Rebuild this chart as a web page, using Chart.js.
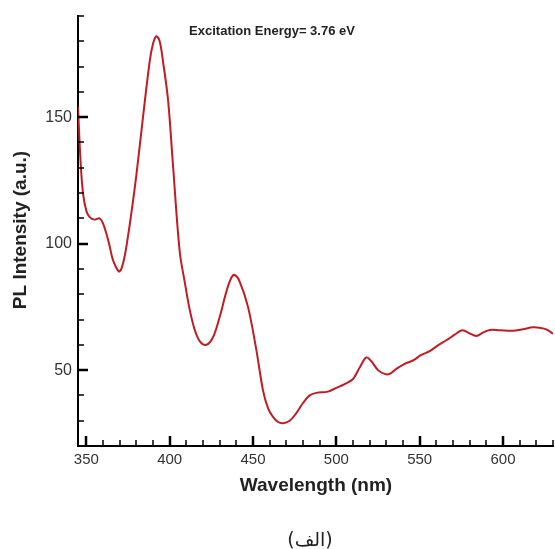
<!DOCTYPE html>
<html>
<head>
<meta charset="utf-8">
<script src="https://cdn.jsdelivr.net/npm/chart.js@4.4.1/dist/chart.umd.min.js"></script>
<style>
    html, body { margin: 0; padding: 0; background: #fff; }
    #wrap { width: 555px; height: 549px; }
</style>
</head>
<body>
<div id="wrap"><canvas id="plChart" width="555" height="549"></canvas></div>
<script>
// Dane widma PL
const wavelengths = [345, 346.5, 348, 350, 352, 355, 358, 360, 362, 364, 366, 369.5, 371, 373, 375, 377, 380, 384, 388, 390, 392, 394, 396, 399, 402, 406, 409, 412, 415, 418, 422, 426, 430, 434, 437, 439, 442, 447, 452, 456, 459, 462, 465, 468, 472, 476, 480, 484, 488, 495, 500, 505, 510, 514, 518, 521, 525, 529, 532, 536, 541, 546, 551, 556, 561, 566, 571, 575.5, 580, 584, 588, 592, 598, 606, 612, 618, 622, 626, 630];
const intensity = [154, 133, 120, 113, 110.5, 109.5, 110, 108, 104, 99, 93.5, 89, 90, 95, 103, 112, 127, 150, 172, 179, 182, 180, 172, 157, 131, 97, 85, 74, 66, 61.5, 60, 63, 71, 81, 86.5, 87.6, 85, 75, 58, 42, 35, 31.5, 29.5, 29, 30, 33, 37, 40, 41, 41.5, 43, 44.5, 46.5, 51, 55, 53.5, 50, 48.5, 48.5, 50.5, 52.5, 53.8, 56, 57.5, 59.8, 61.8, 64, 65.8, 64.5, 63.5, 64.8, 65.9, 65.8, 65.6, 66.2, 66.9, 66.7, 66.1, 64.4];

const xMajorTicks = [350, 400, 450, 500, 550, 600];
const yMajorTicks = [50, 100, 150];
const xRange = [345, 630];
const yRange = [20, 190];

const titleText = 'Excitation Energy= 3.76 eV';
const xTitle = 'Wavelength (nm)';
const yTitle = 'PL Intensity (a.u.)';
const captionText = '(الف)';

// ==================== PLUGIN: znaczniki i napisy ====================

const decorPlugin = {
    id: 'decor',
    afterDraw(chart) {
        const ctx = chart.ctx;
        const xs = chart.scales.x;
        const ys = chart.scales.y;
        const area = chart.chartArea;

        ctx.save();
        ctx.strokeStyle = '#000';

        // znaczniki osi X (do wewnatrz)
        for (let v = 350; v <= xRange[1]; v += 10) {
            const major = xMajorTicks.includes(v);
            const px = Math.round(xs.getPixelForValue(v));
            ctx.lineWidth = major ? 2.5 : 1.5;
            ctx.beginPath();
            ctx.moveTo(px, area.bottom);
            ctx.lineTo(px, area.bottom - (major ? 10 : 6));
            ctx.stroke();
        }
        // znaczniki osi Y
        for (let v = 30; v <= yRange[1]; v += 10) {
            const major = yMajorTicks.includes(v);
            const py = Math.round(ys.getPixelForValue(v));
            ctx.lineWidth = major ? 2.5 : 1.5;
            ctx.beginPath();
            ctx.moveTo(area.left, py);
            ctx.lineTo(area.left + (major ? 10 : 6), py);
            ctx.stroke();
        }

        // napisy
        ctx.fillStyle = '#222';
        ctx.textAlign = 'center';
        ctx.textBaseline = 'middle';
        ctx.font = 'bold 13px "Liberation Sans", Arial, sans-serif';
        ctx.fillText(titleText, 272, 31);

        ctx.font = 'bold 19px "Liberation Sans", Arial, sans-serif';
        ctx.fillText(xTitle, 316, 486);

        ctx.save();
        ctx.translate(21, 230);
        ctx.rotate(-Math.PI / 2);
        ctx.fillText(yTitle, 0, 0);
        ctx.restore();

        ctx.font = '19px "DejaVu Sans", "Noto Sans", sans-serif';
        ctx.fillText(captionText, 310, 541);
        ctx.restore();
    }
};

// ==================== WYKRES ====================

const ctx = document.getElementById('plChart').getContext('2d');

new Chart(ctx, {
    type: 'line',
    data: {
        datasets: [{
            data: wavelengths.map((w, i) => ({ x: w, y: intensity[i] })),
            borderColor: '#bf1d23',
            borderWidth: 2,
            pointRadius: 0,
            tension: 0.35,
            fill: false
        }]
    },
    options: {
        responsive: false,
        animation: false,
        layout: {
            padding: { top: 16, right: 2, left: 0, bottom: 0 }
        },
        plugins: {
            legend: { display: false },
            tooltip: { enabled: false }
        },
        scales: {
            x: {
                type: 'linear',
                min: xRange[0],
                max: xRange[1],
                afterBuildTicks: (scale) => {
                    scale.ticks = xMajorTicks.map(v => ({ value: v }));
                },
                afterFit: (scale) => { scale.height = 103; },
                grid: { display: false, drawTicks: false, tickLength: 0 },
                border: { display: true, color: '#000', width: 2 },
                ticks: {
                    color: '#333',
                    padding: 5,
                    maxRotation: 0,
                    font: { family: '"Liberation Sans", Arial, sans-serif', size: 15 }
                }
            },
            y: {
                min: yRange[0],
                max: yRange[1],
                afterBuildTicks: (scale) => {
                    scale.ticks = yMajorTicks.map(v => ({ value: v }));
                },
                afterFit: (scale) => { scale.width = 78; },
                grid: { display: false, drawTicks: false, tickLength: 0 },
                border: { display: true, color: '#000', width: 2 },
                ticks: {
                    color: '#333',
                    padding: 6,
                    font: { family: '"Liberation Sans", Arial, sans-serif', size: 16 }
                }
            }
        }
    },
    plugins: [decorPlugin]
});
</script>
</body>
</html>
